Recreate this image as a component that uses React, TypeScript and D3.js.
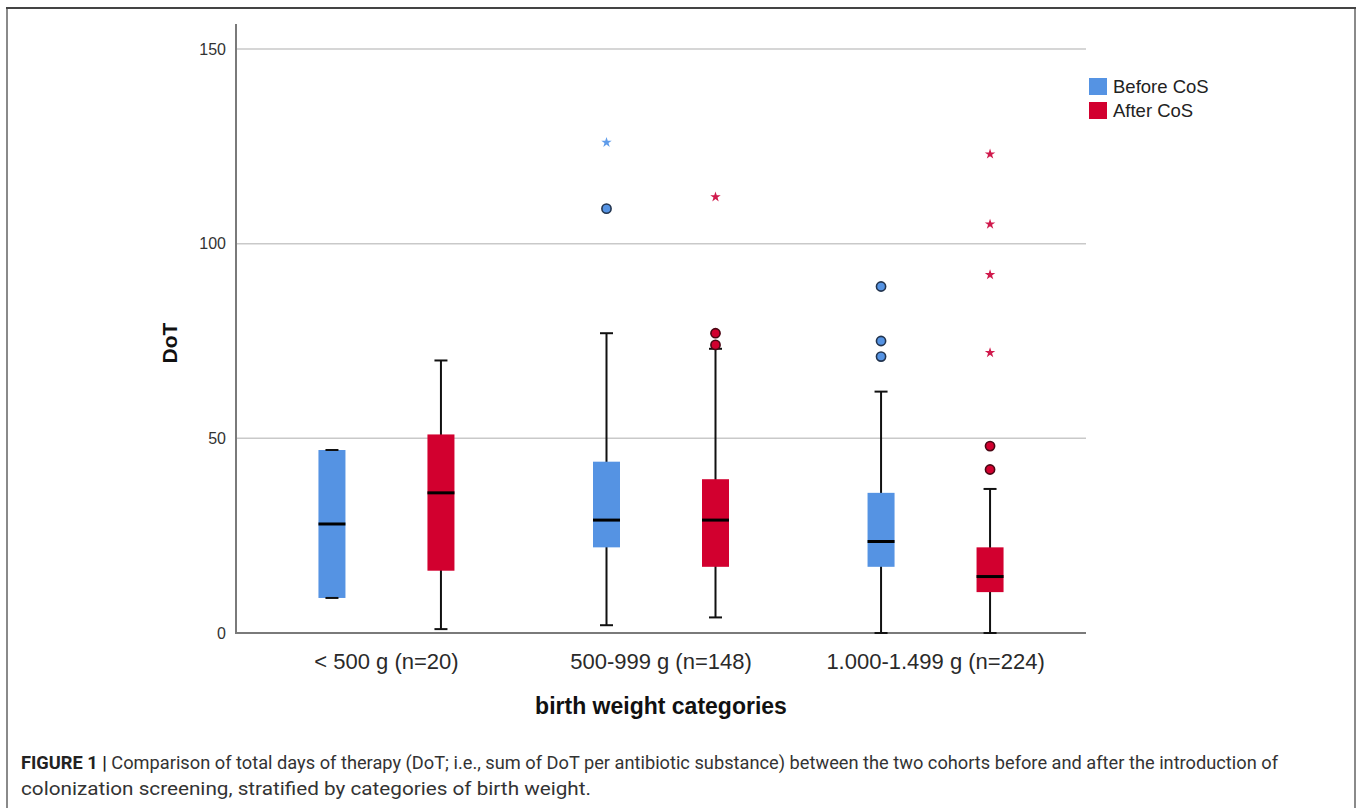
import * as d3 from "d3";

// ---------------------------------------------------------------------------
// Data
// ---------------------------------------------------------------------------

const categories = ["< 500 g (n=20)", "500-999 g (n=148)", "1.000-1.499 g (n=224)"];
const cohorts = ["Before CoS", "After CoS"];
const yTicks = [0, 50, 100, 150];

// [whisker low, q1, median, q3, whisker high] per category
const beforeStats = [
  [9, 9, 28, 47, 47],
  [2, 22, 29, 44, 77],
  [0, 17, 23.5, 36, 62],
];
const afterStats = [
  [1, 16, 36, 51, 70],
  [4, 17, 29, 39.5, 73],
  [0, 10.5, 14.5, 22, 37],
];

// circles = outliers, stars = extreme values
const beforeOutliers = [[], [109], [89, 75, 71]];
const beforeExtremes = [[], [126], []];
const afterOutliers = [[], [77, 74], [48, 42]];
const afterExtremes = [[], [112], [123, 105, 92, 72]];

const captionLine1 =
  "Comparison of total days of therapy (DoT; i.e., sum of DoT per antibiotic substance) between the two cohorts before and after the introduction of";
const captionLine2 = "colonization screening, stratified by categories of birth weight.";

// ---------------------------------------------------------------------------
// Style
// ---------------------------------------------------------------------------

const BLUE = "#5593e3";
const RED = "#d2002f";
const BLUE_EDGE = "#22344e";
const RED_EDGE = "#4a0714";
const GRID = "#c9c9c9";
const AXIS = "#7a7a7a";
const TEXT = "#222";
const FONT = "'Liberation Sans', Arial, sans-serif";
const CAP_FONT = "Roboto, sans-serif";

const W = 1360;
const H = 808;
const PLOT = { left: 236, right: 1086, top: 49, bottom: 633 };
const BOX_W = 27;
const CAP_W = 13;

export default function App() {
  const x = d3
    .scalePoint<string>()
    .domain(categories)
    .range([PLOT.left, PLOT.right])
    .padding(0.548);
  const sub = d3.scalePoint<string>().domain(cohorts).range([-54.5, 54.5]);
  const y = d3.scaleLinear().domain([0, 150]).range([PLOT.bottom, PLOT.top]);
  const star = d3.symbol().type(d3.symbolStar).size(34)() ?? "";

  const series = [
    { name: cohorts[0], stats: beforeStats, out: beforeOutliers, ext: beforeExtremes, fill: BLUE, edge: BLUE_EDGE, star: "#5f9cea" },
    { name: cohorts[1], stats: afterStats, out: afterOutliers, ext: afterExtremes, fill: RED, edge: RED_EDGE, star: "#d01a4c" },
  ];

  return (
    <div style={{ position: "absolute", left: 0, top: 0 }}>
      <svg width={W} height={H} style={{ display: "block", background: "#fff" }}>
        {/* figure frame */}
        <line x1={7} x2={7} y1={8} y2={H} stroke="#8a8a8a" strokeWidth={2} />
        <line x1={1355} x2={1355} y1={8} y2={H} stroke="#8a8a8a" strokeWidth={2} />
        <line x1={6} x2={1356} y1={8} y2={8} stroke="#444" strokeWidth={2} />

        {/* gridlines */}
        {yTicks
          .filter((t) => t > 0)
          .map((t) => (
            <line key={t} x1={PLOT.left} x2={PLOT.right} y1={y(t)} y2={y(t)} stroke={GRID} strokeWidth={1.5} />
          ))}

        {/* axes */}
        <line x1={PLOT.left} x2={PLOT.left} y1={24} y2={PLOT.bottom} stroke={AXIS} strokeWidth={2} />
        <line x1={PLOT.left - 1} x2={PLOT.right} y1={PLOT.bottom} y2={PLOT.bottom} stroke={AXIS} strokeWidth={2} />

        {yTicks.map((t) => (
          <text key={`yl${t}`} x={PLOT.left - 10} y={y(t)} dy="0.35em" textAnchor="end" fontSize={16} fontFamily={FONT} fill="#333">
            {t}
          </text>
        ))}

        <text
          transform={`translate(177,${(PLOT.top + PLOT.bottom) / 2 + 2}) rotate(-90)`}
          textAnchor="middle"
          fontSize={21}
          fontWeight="bold"
          fontFamily={FONT}
          fill="#111"
        >
          DoT
        </text>

        {categories.map((c) => (
          <text key={c} x={x(c)} y={661} dy="0.35em" textAnchor="middle" fontSize={22} fontFamily={FONT} fill="#2a2a2a">
            {c}
          </text>
        ))}

        <text x={x(categories[1])} y={706} dy="0.35em" textAnchor="middle" fontSize={23} fontWeight="bold" fontFamily={FONT} fill="#111">
          birth weight categories
        </text>

        {/* boxes */}
        {series.map((s) =>
          categories.map((c, i) => {
            const cx = (x(c) ?? 0) + (sub(s.name) ?? 0);
            const [lo, q1, med, q3, hi] = s.stats[i];
            return (
              <g key={`${s.name}-${c}`}>
                <line x1={cx} x2={cx} y1={y(lo)} y2={y(hi)} stroke="#111" strokeWidth={2} />
                <rect x={cx - BOX_W / 2} y={y(q3)} width={BOX_W} height={y(q1) - y(q3)} fill={s.fill} />
                <line x1={cx - BOX_W / 2} x2={cx + BOX_W / 2} y1={y(med)} y2={y(med)} stroke="#000" strokeWidth={3} />
                <line x1={cx - CAP_W / 2} x2={cx + CAP_W / 2} y1={y(lo)} y2={y(lo)} stroke="#111" strokeWidth={2} />
                <line x1={cx - CAP_W / 2} x2={cx + CAP_W / 2} y1={y(hi)} y2={y(hi)} stroke="#111" strokeWidth={2} />
                {s.out[i].map((v, k) => (
                  <circle key={`o${k}`} cx={cx} cy={y(v)} r={4.6} fill={s.fill} stroke={s.edge} strokeWidth={1.6} />
                ))}
                {s.ext[i].map((v, k) => (
                  <path key={`e${k}`} d={star} transform={`translate(${cx},${y(v)})`} fill={s.star} />
                ))}
              </g>
            );
          }),
        )}

        {/* legend */}
        {series.map((s, i) => (
          <g key={`lg${s.name}`} transform={`translate(1089,${78 + i * 24})`}>
            <rect width={18} height={17} fill={s.fill} />
            <text x={24} y={9} dy="0.35em" fontSize={18.5} fontFamily={FONT} fill={TEXT}>
              {s.name}
            </text>
          </g>
        ))}

        {/* caption */}
        <text x={21} y={769} fontSize={18.5} fontFamily={CAP_FONT} fill="#333" textLength={1257} lengthAdjust="spacingAndGlyphs">
          <tspan fontWeight="bold" fill="#222">FIGURE 1 |</tspan> {captionLine1}
        </text>
        <text x={21} y={795} fontSize={18.5} fontFamily={CAP_FONT} fill="#333" textLength={570} lengthAdjust="spacingAndGlyphs">
          {captionLine2}
        </text>
      </svg>
    </div>
  );
}
